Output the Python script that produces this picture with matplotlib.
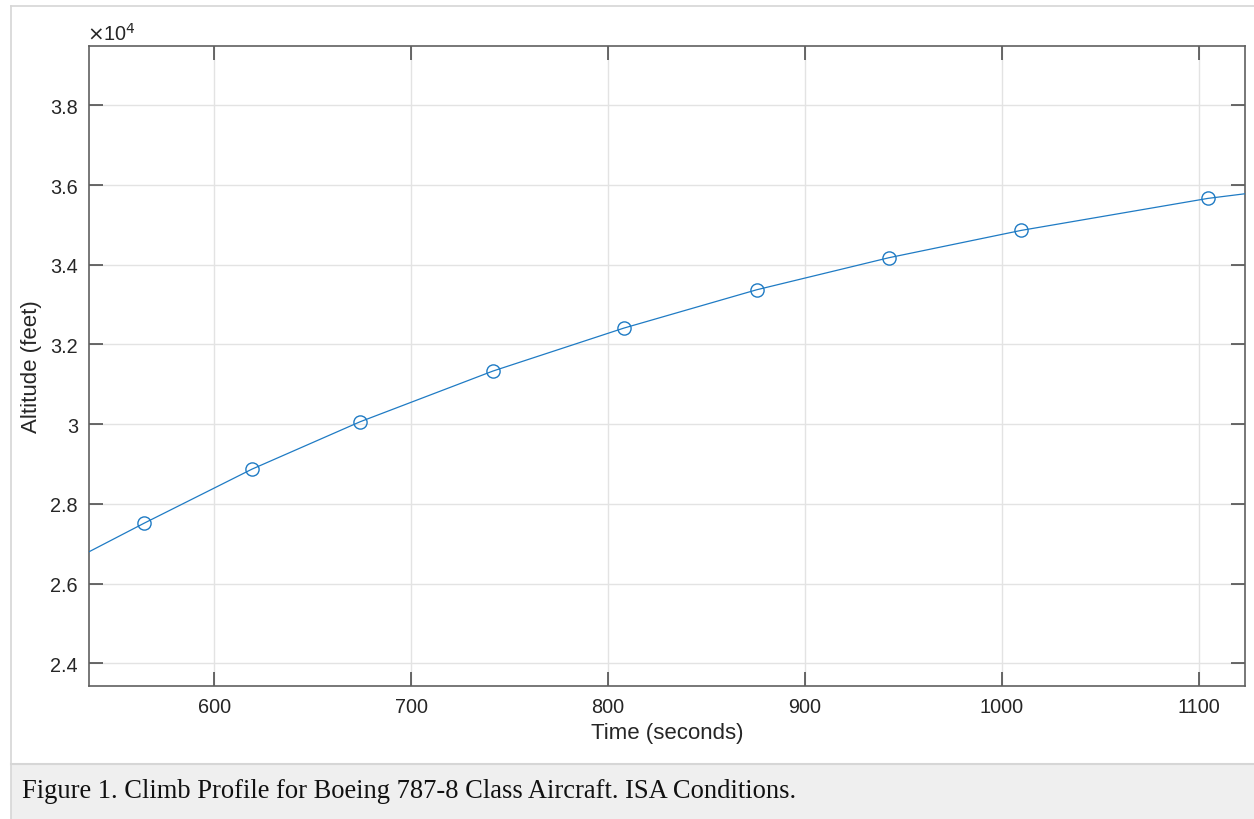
import matplotlib.pyplot as plt
from matplotlib.lines import Line2D
from matplotlib.patches import Rectangle
from matplotlib.ticker import FuncFormatter

# --- Dados ---
# pontos marcados (círculos)
time_pts = [564.6, 619.3, 674.1, 741.5, 808.1, 875.5, 942.5, 1009.8, 1104.6]
alt_pts = [27518, 28873, 30060, 31332, 32412, 33373, 34176, 34863, 35666]

# curva contínua (começo, pontos, fim)
time_line = [536.5] + time_pts + [1123.4]
alt_line = [26798] + alt_pts + [35782]

x_ticks = [600, 700, 800, 900, 1000, 1100]
y_ticks = [24000, 26000, 28000, 30000, 32000, 34000, 36000, 38000]

caption = "Figure 1. Climb Profile for Boeing 787-8 Class Aircraft. ISA Conditions."

plt.rcParams['font.family'] = ['Liberation Sans', 'DejaVu Sans']

W, H = 1254, 820
fig = plt.figure(figsize=(W / 100, H / 100), dpi=100)
fig.patch.set_facecolor('white')

# caixa da legenda (cinza) e moldura
fig.add_artist(Rectangle((11 / W, 0), 1 - 11 / W, 55 / H, transform=fig.transFigure,
                         facecolor='#efefef', edgecolor='none', zorder=0))
fig.add_artist(Line2D([11 / W, 1], [55 / H, 55 / H], transform=fig.transFigure,
                      color='#d6d6d6', linewidth=1.5))
fig.add_artist(Line2D([11 / W, 11 / W], [0, 1 - 7 / H], transform=fig.transFigure,
                      color='#d6d6d6', linewidth=1.2))
fig.add_artist(Line2D([11 / W, 1], [1 - 7 / H, 1 - 7 / H], transform=fig.transFigure,
                      color='#d6d6d6', linewidth=1.2))
fig.text(22 / W, 1 - 792 / H, caption, family='Liberation Serif', fontsize=19.1,
         va='center', ha='left', color='#111111')

ax = fig.add_axes([89 / W, 1 - 687 / H, (1245 - 89) / W, (687 - 47) / H])

ax.plot(time_line, alt_line, color='#1f7bc4', linewidth=0.9, zorder=3)
ax.plot(time_pts, alt_pts, linestyle='none', marker='o', markersize=9.5,
        markerfacecolor='none', markeredgecolor='#1f7bc4', markeredgewidth=1.0, zorder=4)

ax.set_xlim(536.5, 1123.4)
ax.set_ylim(23430, 39490)
ax.set_xticks(x_ticks)
ax.set_yticks(y_ticks)
ax.yaxis.set_major_formatter(FuncFormatter(lambda v, p: f"{v / 1e4:g}"))

ax.grid(True, color='#e3e3e3', linewidth=1.0, zorder=0)
ax.set_axisbelow(True)

for s in ax.spines.values():
    s.set_color('#606060')
    s.set_linewidth(1.2)

ax.tick_params(direction='in', length=10, width=1.1, color='#404040',
               labelsize=14.3, labelcolor='#262626', top=True, right=True, pad=8)

ax.set_xlabel("Time (seconds)", fontsize=16, color='#262626', labelpad=4)
ax.set_ylabel("Altitude (feet)", fontsize=16, color='#262626', labelpad=6)

ax.text(-0.002, 1.004, r"$\times$10$^{4}$", transform=ax.transAxes, fontsize=14.3,
        color='#262626', ha='left', va='bottom')

fig.savefig('out.png', dpi=100)
plt.close()
